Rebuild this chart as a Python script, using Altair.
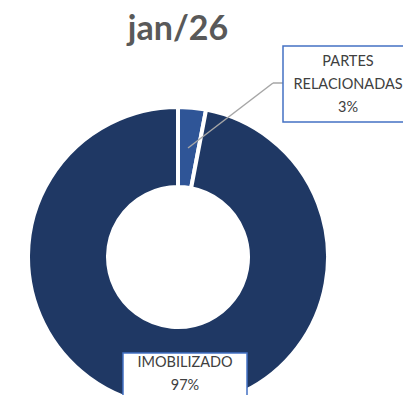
import altair as alt
import pandas as pd

title = "jan/26"
categories = ["PARTES RELACIONADAS", "IMOBILIZADO"]
label_lines = [["PARTES", "RELACIONADAS"], ["IMOBILIZADO"]]
values = [3, 97]
colors = ["#2F5597", "#1F3864"]

df = pd.DataFrame({"cat": categories, "val": values, "ord": list(range(len(categories)))})
labels = ["\n".join(l + [f"{v}%"]) for l, v in zip(label_lines, values)]

W, H = 395, 387
cx, cy = 170, 249

arc = alt.Chart(df).mark_arc(outerRadius=150, innerRadius=70, stroke="white", strokeWidth=4).encode(
    theta=alt.Theta("val:Q", stack=True),
    order=alt.Order("ord:Q"),
    color=alt.Color("cat:N", scale=alt.Scale(domain=categories, range=colors), legend=None),
    x=alt.value(cx), y=alt.value(cy),
)

one = pd.DataFrame({"a": [0]})
lead1 = alt.Chart(one).mark_rule(color="#A6A6A6", strokeWidth=1.5).encode(
    x=alt.value(180), y=alt.value(140), x2=alt.value(265), y2=alt.value(75))
lead2 = alt.Chart(one).mark_rule(color="#A6A6A6", strokeWidth=1.5).encode(
    x=alt.value(265), y=alt.value(75), x2=alt.value(275), y2=alt.value(75))

box_style = dict(fill="white", stroke="#4472C4", strokeWidth=1.5)
box1 = alt.Chart(one).mark_rect(**box_style).encode(
    x=alt.value(275), x2=alt.value(402), y=alt.value(38), y2=alt.value(114))
box2 = alt.Chart(one).mark_rect(**box_style).encode(
    x=alt.value(115), x2=alt.value(239), y=alt.value(345), y2=alt.value(391))

txt_style = dict(font="Lato", fontSize=14.5, color="#404040", lineBreak="\n", lineHeight=23, baseline="middle", align="center")
t1 = alt.Chart(pd.DataFrame({"t": [labels[0]]})).mark_text(**txt_style).encode(
    text="t:N", x=alt.value(340), y=alt.value(54))
t2 = alt.Chart(pd.DataFrame({"t": [labels[1]]})).mark_text(**txt_style).encode(
    text="t:N", x=alt.value(177), y=alt.value(355))

ttl = alt.Chart(pd.DataFrame({"t": [title]})).mark_text(
    font="Lato", fontSize=34, fontWeight="bold", color="#595959", baseline="middle", align="center"
).encode(text="t:N", x=alt.value(170), y=alt.value(22))

chart = alt.layer(arc, lead1, lead2, box1, box2, t1, t2, ttl).properties(
    width=W, height=H, padding=0, autosize=alt.AutoSizeParams(type="none")
).configure_view(stroke=None)

chart.save("out.html", embed_options={"renderer": "svg", "actions": False})
